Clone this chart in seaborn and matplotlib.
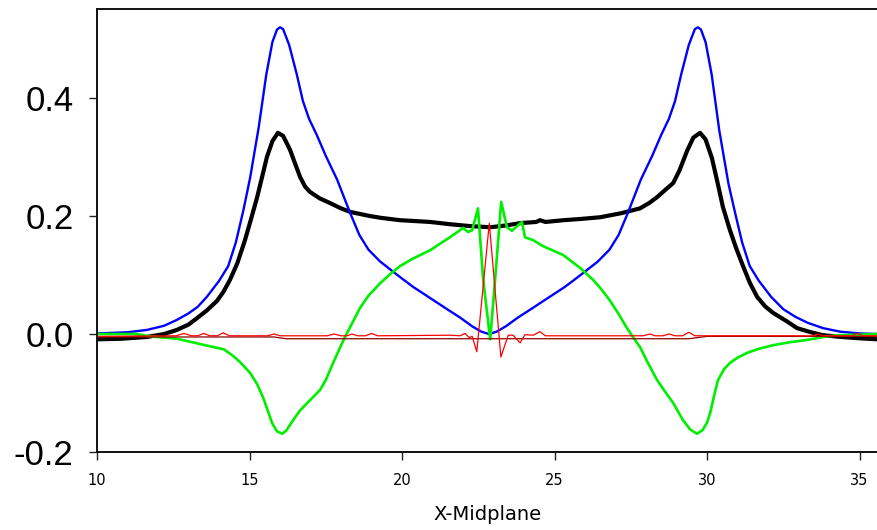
import matplotlib
matplotlib.use("Agg")
import matplotlib.pyplot as plt
import seaborn as sns

# black (thick) curve
black_x = [10, 10.8, 11.64, 12.2, 12.62, 13.0, 13.28, 13.6, 13.93, 14.15, 14.36, 14.6, 14.85, 15.05, 15.25,
           15.42, 15.57, 15.75, 15.93, 16.1, 16.33, 16.5, 16.66, 16.82, 16.98, 17.3, 17.64, 18.0, 18.3,
           18.95, 19.3, 19.93, 20.92, 21.6, 22.23, 22.89, 23.4, 23.87, 24.4, 24.52, 24.7, 25.3, 25.84,
           26.5, 27.2, 27.8, 28.1, 28.36, 28.6, 28.89, 29.1, 29.34, 29.55, 29.77, 29.95, 30.16, 30.35,
           30.52, 30.75, 30.95, 31.18, 31.4, 31.64, 31.9, 32.16, 32.6, 32.95, 33.4, 33.8, 34.4, 34.92, 35.6]
black_y = [-0.009, -0.008, -0.005, 0.0, 0.007, 0.016, 0.027, 0.04, 0.056, 0.072, 0.092, 0.12, 0.159, 0.195, 0.232,
           0.268, 0.30, 0.327, 0.341, 0.336, 0.312, 0.288, 0.266, 0.25, 0.241, 0.23, 0.222, 0.213, 0.207,
           0.2, 0.197, 0.193, 0.19, 0.186, 0.183, 0.181, 0.184, 0.188, 0.19, 0.193, 0.19, 0.193, 0.195,
           0.198, 0.205, 0.213, 0.222, 0.232, 0.243, 0.256, 0.278, 0.31, 0.333, 0.341, 0.33, 0.298, 0.255,
           0.215, 0.176, 0.146, 0.115, 0.087, 0.063, 0.047, 0.036, 0.022, 0.01, 0.003, -0.002, -0.005, -0.007, -0.009]

# blue curve
blue_x = [10, 11, 11.64, 12.2, 12.62, 13.0, 13.3, 13.6, 14.0, 14.3, 14.55, 14.8, 15.02, 15.3, 15.55, 15.75,
          15.9, 16.0, 16.1, 16.3, 16.55, 16.75, 16.95, 17.2, 17.5, 17.87, 18.3, 18.6, 18.9, 19.28, 19.7,
          20.0, 20.36, 20.92, 21.48, 21.9, 22.3, 22.6, 22.85, 23.1, 23.4, 23.8, 24.22, 24.78, 25.34, 25.7,
          26.0, 26.42, 26.8, 27.1, 27.4, 27.83, 28.2, 28.5, 28.75, 28.95, 29.15, 29.4, 29.6, 29.7, 29.8,
          29.95, 30.15, 30.4, 30.7, 30.92, 31.15, 31.4, 31.7, 32.1, 32.5, 32.9, 33.3, 33.8, 34.36, 35.0, 35.6]
blue_y = [0.001, 0.003, 0.007, 0.014, 0.024, 0.035, 0.046, 0.063, 0.09, 0.115, 0.155, 0.21, 0.265, 0.35, 0.44, 0.495,
          0.516, 0.52, 0.517, 0.49, 0.44, 0.395, 0.365, 0.338, 0.302, 0.262, 0.205, 0.168, 0.143, 0.123, 0.106,
          0.094, 0.08, 0.061, 0.042, 0.028, 0.013, 0.004, 0.0, 0.004, 0.013, 0.028, 0.042, 0.061, 0.08, 0.094,
          0.106, 0.123, 0.143, 0.168, 0.205, 0.262, 0.302, 0.338, 0.365, 0.395, 0.44, 0.49, 0.517, 0.52, 0.516,
          0.495, 0.44, 0.345, 0.255, 0.205, 0.155, 0.115, 0.09, 0.063, 0.042, 0.029, 0.019, 0.01, 0.004, 0.001, 0.0]

# green curve
green_x = [10, 11.3, 11.74, 12.62, 13.38, 14.16, 14.46, 14.7, 15.02, 15.25, 15.44, 15.6, 15.74, 15.9, 16.07,
           16.2, 16.43, 16.65, 16.89, 17.1, 17.31, 17.5, 17.74, 17.95, 18.13, 18.4, 18.62, 18.9, 19.28,
           19.6, 19.93, 20.36, 20.92, 21.3, 21.57, 21.9, 22.0, 22.16, 22.3, 22.49, 22.66, 22.89, 23.05,
           23.25, 23.44, 23.6, 23.93, 24.03, 24.3, 24.62, 25.28, 25.84, 26.26, 26.5, 26.8, 27.1, 27.35,
           27.57, 27.8, 28.05, 28.36, 28.6, 28.89, 29.21, 29.45, 29.67, 29.85, 30.0, 30.1, 30.25, 30.36,
           30.55, 30.75, 31.0, 31.31, 31.7, 32.16, 32.7, 33.28, 33.93, 34.36, 35.0, 35.6]
green_y = [0.0, 0.0, -0.004, -0.008, -0.017, -0.026, -0.037, -0.048, -0.066, -0.085, -0.107, -0.13, -0.151, -0.165, -0.169,
           -0.164, -0.146, -0.13, -0.117, -0.106, -0.095, -0.078, -0.049, -0.025, -0.005, 0.022, 0.044, 0.065, 0.086,
           0.101, 0.115, 0.128, 0.142, 0.155, 0.164, 0.176, 0.18, 0.173, 0.176, 0.213, 0.092, -0.009, 0.092,
           0.224, 0.181, 0.175, 0.19, 0.164, 0.159, 0.149, 0.134, 0.112, 0.092, 0.078, 0.058, 0.034, 0.012,
           -0.005, -0.022, -0.048, -0.078, -0.096, -0.117, -0.146, -0.162, -0.169, -0.163, -0.15, -0.134, -0.1, -0.078,
           -0.06, -0.049, -0.04, -0.032, -0.025, -0.019, -0.014, -0.01, -0.004, -0.002, -0.001, 0.0]

# dark red curve
maroon_x = [10, 15.8, 16.2, 29.4, 30.0, 35.6]
maroon_y = [-0.005, -0.005, -0.008, -0.008, -0.004, -0.004]

# red curve
red_x = [10, 12.6, 12.85, 13.1, 13.3, 13.5, 13.7, 13.95, 14.13, 14.35, 15.6, 15.8, 16.0, 17.55, 17.77,
         18.0, 18.2, 18.36, 18.55, 18.8, 19.0, 19.2, 21.6, 21.9, 22.07, 22.2, 22.3, 22.45, 22.86, 23.24,
         23.48, 23.64, 23.87, 24.03, 24.3, 24.52, 24.7, 27.9, 28.13, 28.3, 28.55, 28.75, 28.95, 29.2,
         29.4, 29.6, 33.45, 33.64, 33.8, 34.75, 34.92, 35.1, 35.6]
red_y = [-0.004, -0.003, 0.001, -0.003, -0.003, 0.001, -0.003, -0.003, 0.002, -0.003, -0.003, 0.0, -0.003, -0.003, 0.0,
         -0.003, -0.003, 0.0, -0.003, -0.003, 0.001, -0.003, -0.002, -0.003, 0.001, -0.006, -0.004, -0.03, 0.188, -0.039,
         -0.002, -0.002, -0.015, -0.001, -0.002, 0.004, -0.003, -0.003, 0.0, -0.003, -0.003, 0.0, -0.003, -0.003,
         0.003, -0.003, -0.003, 0.0, -0.003, -0.003, 0.001, -0.003, -0.003]

yticks = [-0.2, 0.0, 0.2, 0.4]
ytick_labels = ["-0.2", "0.0", "0.2", "0.4"]
xticks = [10, 15, 20, 25, 30, 35]

sns.set_style("ticks")
plt.rcParams['font.family'] = ['Liberation Sans', 'DejaVu Sans']
plt.rcParams['text.color'] = 'black'
plt.rcParams['axes.labelcolor'] = 'black'
plt.rcParams['xtick.color'] = 'black'
plt.rcParams['ytick.color'] = 'black'

fig = plt.figure(figsize=(8.77, 5.30), dpi=100)
ax = fig.add_axes([97 / 877, 1 - 452 / 530, 780 / 877, (452 - 9) / 530])

sns.lineplot(x=black_x, y=black_y, color="black", linewidth=3.0, ax=ax)
sns.lineplot(x=blue_x, y=blue_y, color="#0000ff", linewidth=1.7, ax=ax)
sns.lineplot(x=green_x, y=green_y, color="#00ee00", linewidth=1.9, ax=ax)
sns.lineplot(x=maroon_x, y=maroon_y, color="#8b0000", linewidth=0.9, ax=ax)
sns.lineplot(x=red_x, y=red_y, color="#ff0000", linewidth=0.9, ax=ax)

ax.set_xlim(10, 35.57)
ax.set_ylim(-0.2, 0.551)
ax.set_xticks(xticks)
ax.set_xticklabels([str(t) for t in xticks], fontfamily="DejaVu Sans", fontsize=10.5)
ax.set_yticks(yticks)
ax.set_yticklabels(ytick_labels, fontsize=25)
ax.tick_params(axis="y", length=6, width=1, pad=11, color="#222222", labelcolor="black")
ax.tick_params(axis="x", length=6, width=1, pad=9, color="#222222", labelcolor="black")
ax.set_xlabel("X-Midplane", fontfamily="DejaVu Sans", fontsize=14, labelpad=12, color="black")
ax.set_ylabel("")

ax.spines["right"].set_visible(False)
for s in ["left", "top", "bottom"]:
    ax.spines[s].set_linewidth(1.4)
    ax.spines[s].set_color("#111111")

fig.savefig("out.png", dpi=100, facecolor="white")
